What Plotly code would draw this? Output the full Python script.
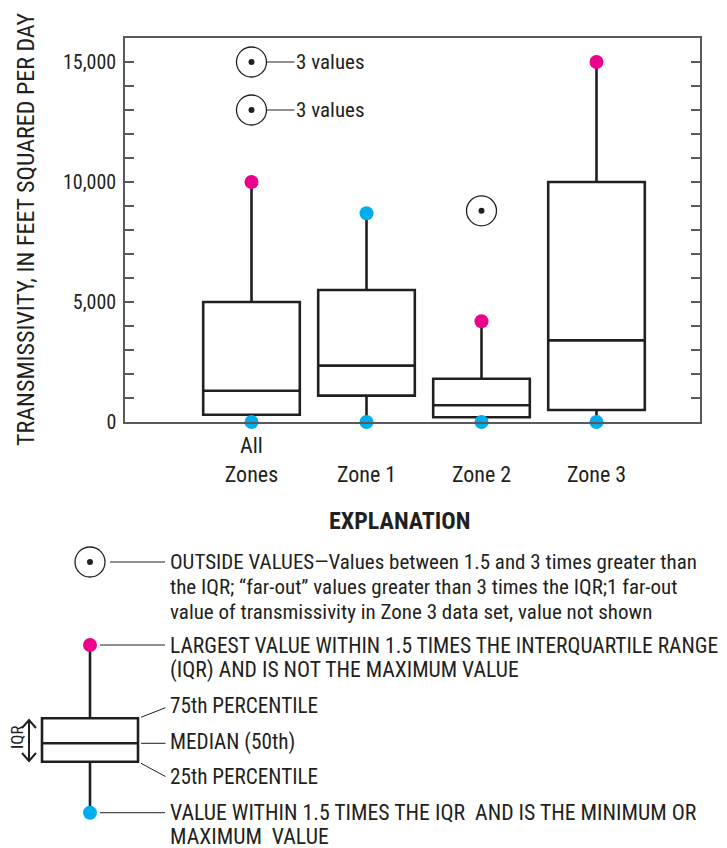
import plotly.graph_objects as go

# ---------------- data ----------------
categories = ["All Zones", "Zone 1", "Zone 2", "Zone 3"]
tick_text = ["All<br>Zones", "<br>Zone 1", "<br>Zone 2", "<br>Zone 3"]
q1 = [300, 1100, 200, 500]
median = [1300, 2350, 700, 3400]
q3 = [5000, 5500, 1800, 10000]
lower_fence = [0, 0, 0, 0]
upper_fence = [10000, 8700, 4200, 15000]
upper_is_extreme = [False, True, False, False]   # cyan if min/max value, magenta otherwise
outlier_cat = ["All Zones", "All Zones", "Zone 2"]
outlier_val = [15000, 13000, 8800]
outlier_label = ["3 values", "3 values", ""]
y_tickvals = [0, 5000, 10000, 15000]
y_range = [0, 16000]

# ---------------- style ----------------
OFF = 8                      # page body margin offset
W, H = 727 - OFF, 848 - OFF  # figure size
FONT = "Roboto Condensed, Liberation Sans Narrow, Arial Narrow, DejaVu Sans Condensed, sans-serif"
DARK = "#231F20"
AXIS = "#58595B"
MAGENTA = "#EC008C"
CYAN = "#00AEEF"
PL, PR, PT, PB = 125, 700, 38, 422     # plot area in screen pixels

def fx(px):
    return (px - OFF) / W

def fy(py):
    return 1 - (py - OFF) / H

fig = go.Figure()

# main box plot
fig.add_trace(go.Box(
    x=categories, q1=q1, median=median, q3=q3,
    lowerfence=lower_fence, upperfence=upper_fence,
    width=0.84, whiskerwidth=0, boxpoints=False,
    line=dict(color=DARK, width=2.6), fillcolor="rgba(255,255,255,0)",
    showlegend=False, hoverinfo="skip"))

# whisker end dots
fig.add_trace(go.Scatter(
    x=categories, y=upper_fence, mode="markers", cliponaxis=False,
    marker=dict(size=14, color=[CYAN if e else MAGENTA for e in upper_is_extreme]),
    showlegend=False, hoverinfo="skip"))
fig.add_trace(go.Scatter(
    x=categories, y=lower_fence, mode="markers", cliponaxis=False,
    marker=dict(size=14, color=CYAN), showlegend=False, hoverinfo="skip"))

# outside values
fig.add_trace(go.Scatter(
    x=outlier_cat, y=outlier_val, mode="markers", cliponaxis=False,
    marker=dict(size=30, color="rgba(0,0,0,0)", line=dict(color=DARK, width=1.3)),
    showlegend=False, hoverinfo="skip"))
fig.add_trace(go.Scatter(
    x=outlier_cat, y=outlier_val, mode="markers", cliponaxis=False,
    marker=dict(size=6, color=DARK), showlegend=False, hoverinfo="skip"))

for c, v, lab in zip(outlier_cat, outlier_val, outlier_label):
    if lab:
        fig.add_annotation(x=c, y=v, xref="x", yref="y", text=lab,
                           showarrow=True, arrowhead=0, arrowwidth=1.2, arrowcolor=DARK,
                           ax=43, ay=0, xanchor="left", yanchor="middle",
                           standoff=15.5, borderpad=0,
                           font=dict(family=FONT, size=21, color=DARK))

# ---------------- explanation (overlay axes in screen-pixel units) ----------------
ex_x = 90
ex_box = dict(lowerfence=645, q1=718.3, median=743.3, q3=761.7, upperfence=812.7)
fig.add_trace(go.Box(
    x=[ex_x], q1=[ex_box["q1"]], median=[ex_box["median"]], q3=[ex_box["q3"]],
    lowerfence=[ex_box["lowerfence"]], upperfence=[ex_box["upperfence"]],
    width=96, whiskerwidth=0, boxpoints=False, xaxis="x2", yaxis="y2",
    line=dict(color=DARK, width=2.6), fillcolor="rgba(255,255,255,0)",
    showlegend=False, hoverinfo="skip"))
fig.add_trace(go.Scatter(x=[ex_x], y=[ex_box["lowerfence"]], mode="markers", xaxis="x2", yaxis="y2",
                         marker=dict(size=14, color=MAGENTA), showlegend=False, hoverinfo="skip"))
fig.add_trace(go.Scatter(x=[ex_x], y=[ex_box["upperfence"]], mode="markers", xaxis="x2", yaxis="y2",
                         marker=dict(size=14, color=CYAN), showlegend=False, hoverinfo="skip"))
fig.add_trace(go.Scatter(x=[ex_x], y=[562], mode="markers", xaxis="x2", yaxis="y2",
                         marker=dict(size=30, color="rgba(0,0,0,0)", line=dict(color=DARK, width=1.3)),
                         showlegend=False, hoverinfo="skip"))
fig.add_trace(go.Scatter(x=[ex_x], y=[562], mode="markers", xaxis="x2", yaxis="y2",
                         marker=dict(size=6, color=DARK), showlegend=False, hoverinfo="skip"))

leaders = [
    (110, 562, 165, 562),
    (100, 645, 165, 645),
    (141, 717.3, 165.5, 707.7),
    (141, 743.3, 165.5, 743.3),
    (141, 763.3, 165.5, 776.5),
    (100, 812.7, 165, 812.7),
]
for x0, y0, x1, y1 in leaders:
    fig.add_shape(type="line", xref="x2", yref="y2", x0=x0, y0=y0, x1=x1, y1=y1,
                  line=dict(color=DARK, width=1))
fig.add_shape(type="path", xref="x2", yref="y2",
              path="M29,720 L29,761 M22,728 L29,720 L36,728 M22,753 L29,761 L36,753",
              line=dict(color=DARK, width=2))

ex_lines = [
    ("OUTSIDE VALUES\u2014Values between 1.5 and 3 times greater than", 562, 21),
    ("the IQR; \u201cfar-out\u201d values greater than 3 times the IQR;1 far-out", 587, 21),
    ("value of transmissivity in Zone 3 data set, value not shown", 612, 21),
    ("LARGEST VALUE WITHIN 1.5 TIMES THE INTERQUARTILE RANGE", 645, 21.5),
    ("(IQR) AND IS NOT THE MAXIMUM VALUE", 670, 21.7),
    ("75th PERCENTILE", 705, 21.2),
    ("MEDIAN (50th)", 742, 21.2),
    ("25th PERCENTILE", 776, 21.2),
    ("VALUE WITHIN 1.5 TIMES THE IQR\u00a0 AND IS THE MINIMUM OR", 812, 21.8),
    ("MAXIMUM\u00a0 VALUE", 836, 21.8),
]
for t, y, s in ex_lines:
    fig.add_annotation(x=168, y=y, xref="x2", yref="y2", text=t, showarrow=False,
                       xanchor="left", yanchor="middle",
                       font=dict(family=FONT, size=s, color=DARK))

fig.add_annotation(x=399, y=521, xref="x2", yref="y2", text="<b>EXPLANATION</b>", showarrow=False,
                   xanchor="center", yanchor="middle", font=dict(family=FONT, size=24, color=DARK))
fig.add_annotation(x=17, y=737, xref="x2", yref="y2", text="IQR", showarrow=False, textangle=-90,
                   xanchor="center", yanchor="middle", borderpad=0,
                   font=dict(family=FONT, size=17, color=DARK))

# y-axis title
fig.add_annotation(x=fx(26), y=fy(229), xref="paper", yref="paper",
                   text="TRANSMISSIVITY, IN FEET SQUARED PER DAY", showarrow=False, textangle=-90,
                   xanchor="center", yanchor="middle", font=dict(family=FONT, size=24, color=DARK))

fig.update_layout(
    width=W, height=H, margin=dict(l=0, r=0, t=0, b=0),
    paper_bgcolor="white", plot_bgcolor="rgba(0,0,0,0)",
    font=dict(family=FONT, size=21, color=DARK),
    xaxis=dict(domain=[fx(PL), fx(PR)], type="category", categoryorder="array",
               categoryarray=categories, tickvals=categories, ticktext=tick_text,
               range=[-1.1, 3.9], showline=True, linecolor=AXIS, linewidth=1.5, mirror=True,
               ticks="", showgrid=False, zeroline=False, automargin=False, ticklabelstandoff=3,
               tickfont=dict(family=FONT, size=22, color=DARK), anchor="y"),
    yaxis=dict(domain=[fy(PB), fy(PT)], range=y_range, tickvals=y_tickvals, tickformat=",d",
               showline=True, linecolor=AXIS, linewidth=1.5, mirror="ticks",
               ticks="inside", ticklen=9, tickwidth=1.5, tickcolor=AXIS, ticklabelstandoff=3,
               minor=dict(dtick=1000, ticks="inside", ticklen=9, tickwidth=1.5, tickcolor=AXIS),
               showgrid=False, zeroline=False, automargin=False,
               tickfont=dict(family=FONT, size=20, color=DARK), anchor="x"),
    xaxis2=dict(domain=[0, 1], range=[OFF, OFF + W], visible=False, anchor="y2", fixedrange=True),
    yaxis2=dict(domain=[0, 1], range=[OFF + H, OFF], visible=False, anchor="x2", fixedrange=True),
)

fig.write_html("out.html")
